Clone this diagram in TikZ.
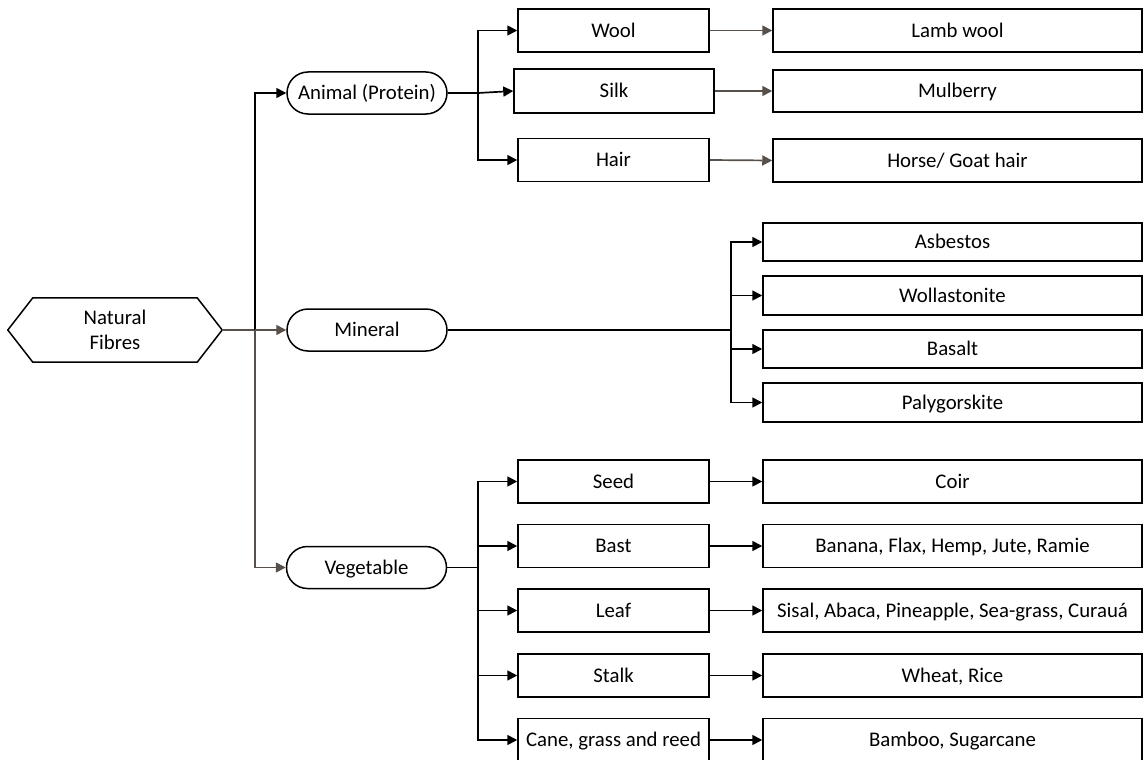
\documentclass[tikz,border=0pt]{standalone}
\usepackage{fontspec}
\setmainfont{Carlito}
\usetikzlibrary{arrows.meta,calc}
\definecolor{lnk}{RGB}{88,80,74}
\begin{document}
\begin{tikzpicture}[x=1pt,y=-1pt,
  every node/.style={font=\fontsize{20.8}{25}\selectfont, inner sep=0pt, align=center, text height=13.4pt, text depth=0pt},
  box/.style={draw=black, line width=1.5pt, fill=white, rectangle},
  pill/.style={draw=black, line width=1.5pt, fill=white, rounded corners=21pt, minimum width=160pt, minimum height=42pt},
  lbox/.style={box, minimum width=191pt, minimum height=43pt},
  rbox/.style={box, minimum width=379pt, minimum height=43pt},
  wire/.style={line width=1.7pt, draw=black},
  gwire/.style={line width=1.7pt, draw=lnk},
  arr/.style={wire, -{Triangle[length=10pt,width=10pt]}},
  garr/.style={gwire, -{Triangle[length=10pt,width=10pt]}}
]
\useasboundingbox (0,0) rectangle (1146,760);

% root hexagon
\node (nf) [minimum width=214pt, minimum height=64pt, text height=38.4pt] at (115,330) {Natural\\Fibres};
\draw[line width=1.5pt, fill=white] (nf.west) -- ($(nf.north west)+(25,0)$) -- ($(nf.north east)+(-25,0)$) -- (nf.east) -- ($(nf.south east)+(-25,0)$) -- ($(nf.south west)+(25,0)$) -- cycle;
\node at (nf) [minimum width=214pt, minimum height=64pt, text height=38.4pt] {Natural\\Fibres};

% second level
\node[pill] (ani) at (367,93) {Animal (Protein)};
\node[pill] (min) at (367,330) {Mineral};
\node[pill] (veg) at (366.5,567.5) {Vegetable};

% junction from root
\coordinate (j0) at (255,330);
\coordinate (j0a) at (255,93);
\coordinate (j0v) at (255,567.5);
\draw[gwire] (nf.east) -- (j0);
\draw[arr] (j0) -- (j0a) -- (ani.west);
\draw[garr] (j0) -- (min.west);
\draw[garr] (j0) -- (j0v) -- (veg.west);

% animal branch
\node[lbox] (wool) at (613.5,30.5) {Wool};
\node[box, minimum width=200pt, minimum height=44pt] (silk) at (614,91) {Silk};
\node[lbox] (hair) at (613.5,160) {Hair};
\node[box, minimum width=369pt, minimum height=43pt] (lamb) at (957.5,30.5) {Lamb wool};
\node[box, minimum width=369pt, minimum height=42pt] (mulb) at (957.5,91) {Mulberry};
\node[box, minimum width=369pt, minimum height=43pt] (horse) at (957.5,160.5) {Horse/ Goat hair};

\coordinate (ja) at (478,93);
\coordinate (jat) at (478,30.5);
\coordinate (jab) at (478,160);
\draw[wire] (ani.east) -- (ja);
\draw[arr] (ja) -- (jat) -- (wool.west);
\draw[arr] (ja) -- (silk.west);
\draw[arr] (ja) -- (jab) -- (hair.west);
\draw[garr] (wool.east) -- (lamb.west);
\draw[garr] (silk.east) -- (mulb.west);
\draw[garr] (hair.east) -- (horse.west);

% mineral branch
\node[box, minimum width=379pt, minimum height=38pt] (asb) at (952.5,242) {Asbestos};
\node[box, minimum width=379pt, minimum height=39pt] (wol) at (952.5,295.5) {Wollastonite};
\node[box, minimum width=379pt, minimum height=38pt] (bas) at (952.5,349) {Basalt};
\node[box, minimum width=379pt, minimum height=39pt] (pal) at (952.5,402.5) {Palygorskite};

\coordinate (jm) at (731,330);
\coordinate (jm1) at (731,242);
\coordinate (jm2) at (731,295.5);
\coordinate (jm3) at (731,349);
\coordinate (jm4) at (731,402.5);
\draw[wire] (min.east) -- (jm);
\draw[arr] (jm) -- (jm1) -- (asb.west);
\draw[arr] (jm2) -- (wol.west);
\draw[arr] (jm3) -- (bas.west);
\draw[arr] (jm) -- (jm4) -- (pal.west);

% vegetable branch
\node[lbox] (seed) at (613.5,481.5) {Seed};
\node[lbox] (bast) at (613.5,546) {Bast};
\node[lbox] (leaf) at (613.5,610.5) {Leaf};
\node[lbox] (stalk) at (613.5,675.5) {Stalk};
\node[lbox] (cane) at (613.5,740) {Cane, grass and reed};
\node[rbox] (coir) at (952.5,481.5) {Coir};
\node[rbox] (bastr) at (952.5,546) {Banana, Flax, Hemp, Jute, Ramie};
\node[rbox] (leafr) at (952.5,610.5) {Sisal, Abaca, Pineapple, Sea-grass, Curauá};
\node[rbox] (stalkr) at (952.5,675.5) {Wheat, Rice};
\node[rbox] (caner) at (952.5,740) {Bamboo, Sugarcane};

\coordinate (jv) at (478,567.5);
\coordinate (jv1) at (478,481.5);
\coordinate (jv2) at (478,546);
\coordinate (jv3) at (478,610.5);
\coordinate (jv4) at (478,675.5);
\coordinate (jv5) at (478,740);
\draw[wire] (veg.east) -- (jv);
\draw[arr] (jv) -- (jv1) -- (seed.west);
\draw[arr] (jv2) -- (bast.west);
\draw[arr] (jv3) -- (leaf.west);
\draw[arr] (jv4) -- (stalk.west);
\draw[arr] (jv) -- (jv5) -- (cane.west);
\draw[arr] (seed.east) -- (coir.west);
\draw[arr] (bast.east) -- (bastr.west);
\draw[arr] (leaf.east) -- (leafr.west);
\draw[arr] (stalk.east) -- (stalkr.west);
\draw[arr] (cane.east) -- (caner.west);
\end{tikzpicture}
\end{document}
